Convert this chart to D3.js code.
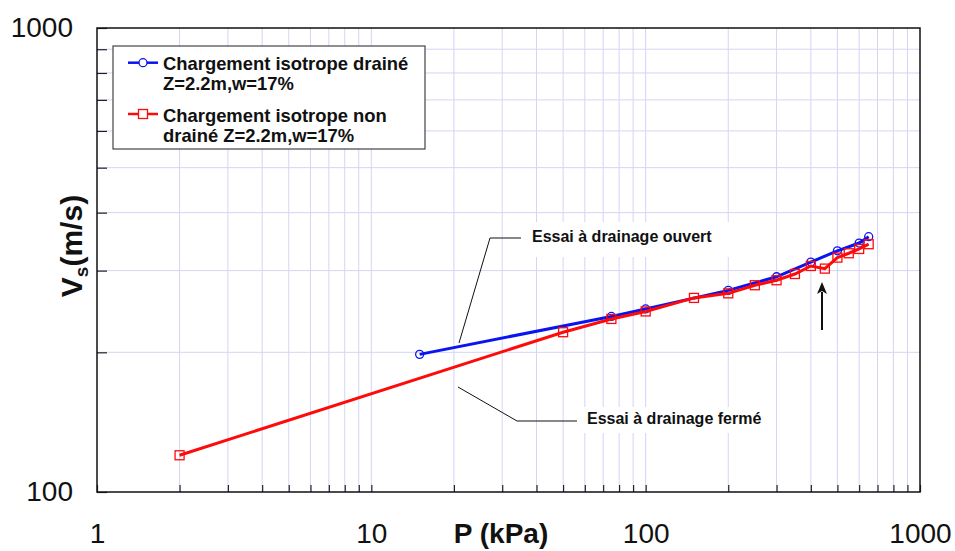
<!DOCTYPE html>
<html><head><meta charset="utf-8">
<script src="https://cdn.jsdelivr.net/npm/d3@7"></script>
<style>
body{margin:0;background:#fff;}
svg{font-family:"Liberation Sans",Arial,sans-serif;}
</style></head>
<body>
<svg id="chart" width="955" height="551"></svg>
<script>
// ---- data ----
const drainedP  = [15, 75, 100, 200, 300, 400, 500, 600, 650];
const drainedVs = [198, 239, 248, 272, 291, 313, 331, 344, 355];
const undrainedP  = [2, 50, 75, 100, 150, 200, 250, 300, 350, 400, 450, 500, 550, 600, 650];
const undrainedVs = [120, 221, 236, 245, 262, 268, 279, 286, 295, 307, 303, 320, 327, 334, 342];
const xTickLabels = [1, 10, 100, 1000];
const yTickLabels = [100, 1000];
const legendLabels = [["Chargement isotrope drainé", "Z=2.2m,w=17%"],
                      ["Chargement isotrope non", "drainé Z=2.2m,w=17%"]];
const annotations = ["Essai à drainage ouvert", "Essai à drainage fermé"];
const xTitle = "P (kPa)";

const svg = d3.select("#chart");
const L = 97, R = 920, T = 28, B = 492;
const x = d3.scaleLog().domain([1, 1000]).range([L, R]);
const y = d3.scaleLog().domain([100, 1000]).range([B, T]);
const grid = "#d4d4f7";

// minor tick values
const xMinor = [];
for (let d = 1; d < 1000; d *= 10) for (let k = 1; k <= 9; k++) xMinor.push(d * k);
xMinor.push(1000);
const yMinor = [];
for (let k = 1; k <= 10; k++) yMinor.push(100 * k);

// gridlines
svg.append("g").selectAll("line").data(xMinor.filter(v => v > 1 && v < 1000)).join("line")
  .attr("x1", d => x(d)).attr("x2", d => x(d)).attr("y1", T).attr("y2", B)
  .attr("stroke", grid).attr("stroke-width", 1);
svg.append("g").selectAll("line").data(yMinor.filter(v => v > 100 && v < 1000)).join("line")
  .attr("y1", d => y(d)).attr("y2", d => y(d)).attr("x1", L).attr("x2", R)
  .attr("stroke", grid).attr("stroke-width", 1);

// white boxes behind annotations
svg.append("rect").attr("x", 524).attr("y", 222).attr("width", 212).attr("height", 35).attr("fill", "#fff");
svg.append("rect").attr("x", 584).attr("y", 407).attr("width", 192).attr("height", 26).attr("fill", "#fff");

// axes
const xAxis = d3.axisBottom(x).tickValues(xMinor).tickSize(-7).tickSizeOuter(0).tickPadding(31)
  .tickFormat(d => xTickLabels.includes(d) ? String(d) : "");
const gx = svg.append("g").attr("transform", `translate(0,${B})`).call(xAxis);
gx.selectAll("text").attr("font-size", 28).attr("fill", "#111").attr("font-family", "Liberation Sans, Arial, sans-serif");
gx.selectAll("line").attr("stroke", "#222").attr("stroke-width", 1.2);
gx.select(".domain").remove();

const yAxis = d3.axisLeft(y).tickValues(yMinor).tickSize(-10).tickSizeOuter(0).tickPadding(24)
  .tickFormat(d => yTickLabels.includes(d) ? String(d) : "");
const gy = svg.append("g").attr("transform", `translate(${L},0)`).call(yAxis);
gy.selectAll("text").attr("font-size", 28).attr("fill", "#111").attr("font-family", "Liberation Sans, Arial, sans-serif");
gy.selectAll("line").attr("stroke", "#222").attr("stroke-width", 1.2);
gy.select(".domain").remove();

// frame
svg.append("rect").attr("x", L).attr("y", T).attr("width", R - L).attr("height", B - T)
  .attr("fill", "none").attr("stroke", "#111").attr("stroke-width", 1.5);

// axis titles
svg.append("text").attr("x", 501).attr("y", 543).attr("text-anchor", "middle")
  .attr("font-size", 28).attr("font-weight", "bold").attr("fill", "#111").text(xTitle);
const yt = svg.append("text").attr("transform", "translate(82,246) rotate(-90)")
  .attr("text-anchor", "middle").attr("font-size", 30).attr("font-weight", "bold").attr("fill", "#111");
yt.append("tspan").text("V");
yt.append("tspan").attr("font-size", 19).attr("dy", 6).text("s");
yt.append("tspan").attr("dy", -6).text("(m/s)");

// series
const line = d3.line().x(d => x(d[0])).y(d => y(d[1]));
const dr = drainedP.map((p, i) => [p, drainedVs[i]]);
const un = undrainedP.map((p, i) => [p, undrainedVs[i]]);
const blue = "#0a14f0", red = "#ff0a0a";

svg.append("path").datum(dr).attr("d", line).attr("fill", "none").attr("stroke", blue).attr("stroke-width", 3);
svg.append("g").selectAll("circle").data(dr).join("circle")
  .attr("cx", d => x(d[0])).attr("cy", d => y(d[1])).attr("r", 4)
  .attr("fill", "none").attr("stroke", blue).attr("stroke-width", 1.3);

svg.append("path").datum(un).attr("d", line).attr("fill", "none").attr("stroke", red).attr("stroke-width", 3);
svg.append("g").selectAll("rect").data(un).join("rect")
  .attr("x", d => x(d[0]) - 4.5).attr("y", d => y(d[1]) - 4.5).attr("width", 9).attr("height", 9)
  .attr("fill", "none").attr("stroke", red).attr("stroke-width", 1.3);

// annotations
svg.append("polyline").attr("points", "459,343 490,238 521,238").attr("fill", "none").attr("stroke", "#111").attr("stroke-width", 1);
svg.append("polyline").attr("points", "458,387 517,421 577,421").attr("fill", "none").attr("stroke", "#111").attr("stroke-width", 1);
svg.append("text").attr("x", 532).attr("y", 242).attr("font-size", 16).attr("font-weight", "bold").attr("fill", "#111").text(annotations[0]);
svg.append("text").attr("x", 587).attr("y", 424).attr("font-size", 16).attr("font-weight", "bold").attr("fill", "#111").text(annotations[1]);

// arrow
svg.append("line").attr("x1", 822).attr("y1", 330).attr("x2", 822).attr("y2", 292).attr("stroke", "#111").attr("stroke-width", 2);
svg.append("path").attr("d", "M822,282 L817,294 L822,291 L827,294 Z").attr("fill", "#111");

// legend
const lg = svg.append("g");
lg.append("rect").attr("x", 113).attr("y", 46).attr("width", 312).attr("height", 103)
  .attr("fill", "#fff").attr("stroke", "#444").attr("stroke-width", 1.2);
const legY = [62.7, 114];
const colors = [blue, red];
legendLabels.forEach((lab, i) => {
  lg.append("line").attr("x1", 128).attr("x2", 158).attr("y1", legY[i]).attr("y2", legY[i])
    .attr("stroke", colors[i]).attr("stroke-width", 2.5);
  if (i === 0) lg.append("circle").attr("cx", 143).attr("cy", legY[i]).attr("r", 4)
    .attr("fill", "#fff").attr("stroke", blue).attr("stroke-width", 1.3);
  else lg.append("rect").attr("x", 138.5).attr("y", legY[i] - 4.5).attr("width", 9).attr("height", 9)
    .attr("fill", "#fff").attr("stroke", red).attr("stroke-width", 1.3);
  lab.forEach((t, j) => {
    lg.append("text").attr("x", 163).attr("y", (i === 0 ? 69.5 : 121.5) + j * 20.5)
      .attr("font-size", 18.4).attr("font-weight", "bold").attr("fill", "#111").text(t);
  });
});
</script>
</body></html>
